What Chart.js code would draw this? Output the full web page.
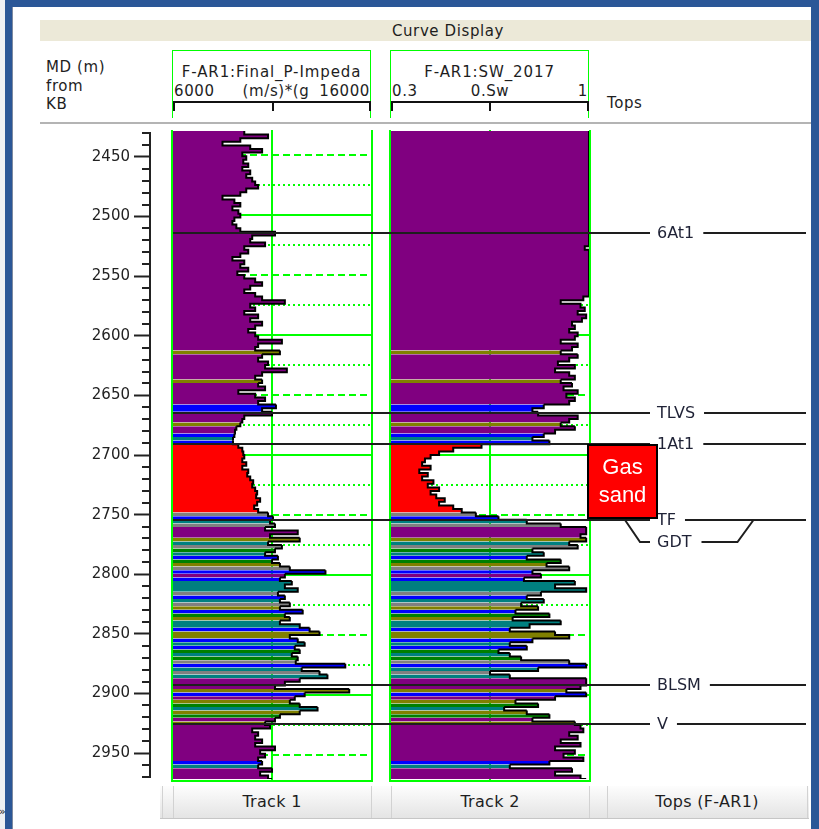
<!DOCTYPE html>
<html>
<head>
<meta charset="utf-8">
<title>Curve Display</title>
<script src="https://cdn.jsdelivr.net/npm/chart.js@4/dist/chart.umd.min.js"></script>
<style>
html,body{margin:0;padding:0;}
body{position:relative;width:819px;height:829px;overflow:hidden;background:#fff;font-family:"DejaVu Sans",Verdana,sans-serif;color:#1e1e1e;}
.a{position:absolute;}
.t{position:absolute;white-space:nowrap;font-size:15px;line-height:18px;letter-spacing:0.6px;}
canvas{position:absolute;}
</style>
</head>
<body>
<!-- window chrome -->
<div class="a" style="left:0;top:0;width:6px;height:829px;background:#eef0f3"></div>
<div class="a" style="left:5px;top:0;width:814px;height:7px;background:#2b5797"></div>
<div class="a" style="left:5px;top:0;width:7px;height:829px;background:#2b5797"></div>
<div class="a" style="left:811px;top:0;width:8px;height:829px;background:#2b5797"></div>
<div class="a" style="left:12px;top:7px;width:1px;height:822px;background:#7d8aa0"></div>
<div class="t" style="left:-1px;top:803px;font-size:11px;letter-spacing:0">»</div>

<!-- title band -->
<div class="a" style="left:40px;top:20px;width:771px;height:21px;background:#ece9d8"></div>
<div class="t" style="left:348px;top:22px;width:200px;text-align:center">Curve Display</div>

<!-- depth header -->
<div class="t" style="left:46px;top:58px">MD (m)</div>
<div class="t" style="left:46px;top:77px">from</div>
<div class="t" style="left:46px;top:95px">KB</div>

<!-- track 1 header -->
<div class="a" style="left:172px;top:50px;width:197px;height:67px;border:1px solid #00ff00;border-bottom:none"></div>
<div class="t" style="left:172px;top:63px;width:199px;text-align:center;letter-spacing:0.9px">F-AR1:Final_P-Impeda</div>
<div class="t" id="t1lo" style="left:174px;top:82px"></div>
<div class="t" id="t1mid" style="left:236px;top:82px;width:80px;text-align:center"></div>
<div class="t" id="t1hi" style="left:300px;top:82px;width:70px;text-align:right"></div>
<div class="a" style="left:173px;top:101px;width:198px;height:2px;background:#111"></div>
<div class="a" style="left:173px;top:101px;width:2px;height:10px;background:#111"></div>
<div class="a" style="left:272px;top:101px;width:2px;height:10px;background:#111"></div>
<div class="a" style="left:369px;top:101px;width:2px;height:10px;background:#111"></div>

<!-- track 2 header -->
<div class="a" style="left:390px;top:50px;width:197px;height:67px;border:1px solid #00ff00;border-bottom:none"></div>
<div class="t" style="left:390px;top:63px;width:199px;text-align:center;letter-spacing:0.9px">F-AR1:SW_2017</div>
<div class="t" id="t2lo" style="left:392px;top:82px"></div>
<div class="t" id="t2mid" style="left:450px;top:82px;width:80px;text-align:center"></div>
<div class="t" id="t2hi" style="left:518px;top:82px;width:70px;text-align:right"></div>
<div class="a" style="left:391px;top:101px;width:198px;height:2px;background:#111"></div>
<div class="a" style="left:391px;top:101px;width:2px;height:10px;background:#111"></div>
<div class="a" style="left:489px;top:101px;width:2px;height:10px;background:#111"></div>
<div class="a" style="left:587px;top:101px;width:2px;height:10px;background:#111"></div>

<div class="t" style="left:607px;top:94px">Tops</div>
<div class="a" style="left:40px;top:122px;width:771px;height:2px;background:#b4b4b4"></div>

<!-- plots -->
<canvas id="depthAxis" width="160" height="670" style="left:0;top:120px"></canvas>
<canvas id="track1" width="218" height="670" style="left:163px;top:120px"></canvas>
<canvas id="track2" width="218" height="670" style="left:381px;top:120px"></canvas>
<canvas id="tops" width="656" height="670" style="left:163px;top:120px"></canvas>

<!-- track tabs -->
<div class="a" style="left:160px;top:786px;width:649px;height:32px;background:linear-gradient(#fdfdfd,#e4e4e4);border-bottom:1px solid #c6c6c6"></div>
<div class="a" style="left:162px;top:786px;width:1px;height:32px;background:#d2d2d2"></div>
<div class="a" style="left:173px;top:786px;width:1px;height:32px;background:#d2d2d2"></div>
<div class="a" style="left:371px;top:786px;width:1px;height:32px;background:#d2d2d2"></div>
<div class="a" style="left:391px;top:786px;width:1px;height:32px;background:#d2d2d2"></div>
<div class="a" style="left:589px;top:786px;width:1px;height:32px;background:#d2d2d2"></div>
<div class="a" style="left:607px;top:786px;width:1px;height:32px;background:#d2d2d2"></div>
<div class="a" style="left:807px;top:786px;width:1px;height:32px;background:#d2d2d2"></div>
<div class="t" style="left:173px;top:793px;width:198px;text-align:center;font-size:16px;letter-spacing:0.3px">Track 1</div>
<div class="t" style="left:391px;top:793px;width:198px;text-align:center;font-size:16px;letter-spacing:0.3px">Track 2</div>
<div class="t" style="left:607px;top:793px;width:200px;text-align:center;font-size:16px;letter-spacing:0.3px">Tops (F-AR1)</div>

<script>
// Sample depths (m MD from KB); each value holds down to the next sample
const DEPTHS = [
  2430,2433,2436,2439,2442,2445,2448,2451,2454,2457,
  2460,2463,2466,2469,2472,2475,2478,2481,2484,2487,
  2490,2493,2496,2499,2502,2505,2508,2511,2514,2517,
  2520,2523,2526,2529,2532,2535,2538,2541,2544,2547,
  2550,2553,2556,2559,2562,2565,2568,2571,2574,2577,
  2580,2583,2586,2589,2592,2595,2598,2601,2604,2607,
  2610,2613,2616,2619,2622,2625,2628,2631,2634,2637,
  2640,2643,2646,2649,2652,2655,2658,2661,2664,2667,
  2670,2673,2676,2679,2682,2685,2688,2691,2694,2697,
  2700,2703,2706,2709,2712,2715,2718,2721,2724,2727,
  2730,2733,2736,2739,2742,2745,2748,2751,2754,2757,
  2760,2763,2766,2769,2772,2775,2778,2781,2784,2787,
  2790,2793,2796,2799,2802,2805,2808,2811,2814,2817,
  2820,2823,2826,2829,2832,2835,2838,2841,2844,2847,
  2850,2853,2856,2859,2862,2865,2868,2871,2874,2877,
  2880,2883,2886,2889,2892,2895,2898,2901,2904,2907,
  2910,2913,2916,2919,2922,2925,2928,2931,2934,2937,
  2940,2943,2946,2949,2952,2955,2958,2961,2964,2967,
  2970
];

// F-AR1:Final_P-Impedance, (m/s)*(g/cc)
const P_IMPEDANCE = [
  9600,10800,9400,8500,9900,10500,9500,9700,9550,9800,
  9500,9900,9700,10000,10150,10300,9700,9400,8500,9100,
  9400,9000,9300,9400,9100,9000,9200,9400,11150,10000,
  9900,10650,9600,9800,9400,9000,9600,9400,9800,9250,
  9600,10150,10500,9900,9600,10150,10500,11650,9900,10150,
  9600,10300,9900,10500,10150,9800,10150,10300,11500,10300,
  10150,11400,10500,10300,10800,10650,11750,10500,10150,10500,
  10300,10650,9300,10150,10650,10300,11200,10500,11000,9600,
  9500,9400,9200,9130,9100,9030,9030,9300,9500,9550,
  9600,9500,9700,9500,9800,9750,9900,10050,10000,10150,
  10250,10200,10400,10250,10100,10300,10800,11050,10900,11150,
  10650,12300,10900,12400,10800,11500,11150,10650,11300,11000,
  11400,11900,13700,11650,11400,12000,11650,12300,11300,11650,
  11400,11900,11400,12550,11650,11900,11400,12400,12900,13400,
  11900,12300,12650,12150,12400,12000,12300,12200,14700,12500,
  13400,13800,12400,11650,11150,14900,12650,12150,11900,12400,
  13300,12400,11400,11150,10650,10900,10000,10300,10150,10500,
  10150,11150,10400,10650,10300,10500,10300,11000,10400,10800,
  11000
];

// F-AR1:SW_2017, water saturation (fraction)
const SW = [
  1,1,1,1,1,1,1,1,1,1,
  1,1,1,1,1,1,1,1,1,1,
  1,1,1,1,1,1,1,1,1,1,
  1,1,0.985,1,1,1,1,1,1,1,
  1,1,1,1,1,1,0.98,0.9,0.97,0.985,
  0.96,0.99,0.975,0.94,0.95,0.93,0.96,0.95,0.9,0.96,
  0.94,0.9,0.96,0.93,0.89,0.95,0.88,0.93,0.95,0.9,
  0.94,0.91,0.96,0.92,0.95,0.93,0.84,0.8,0.82,0.96,
  0.93,0.9,0.95,0.88,0.84,0.8,0.86,0.62,0.52,0.47,
  0.44,0.42,0.41,0.44,0.4,0.43,0.41,0.45,0.43,0.47,
  0.44,0.46,0.49,0.47,0.52,0.55,0.6,0.68,0.78,0.9,
  0.99,0.99,0.97,0.99,0.93,0.96,0.8,0.84,0.78,0.9,
  0.85,0.93,0.8,0.83,0.77,0.95,0.88,0.99,0.83,0.78,
  0.84,0.76,0.82,0.74,0.86,0.73,0.9,0.79,0.72,0.88,
  0.93,0.8,0.72,0.78,0.68,0.72,0.76,0.93,0.99,0.82,
  0.65,0.72,0.99,0.99,0.97,0.92,0.99,0.88,0.74,0.82,
  0.7,0.78,0.86,0.8,0.95,0.97,0.98,0.93,0.96,0.9,
  0.97,0.88,0.95,0.91,0.98,0.86,0.72,0.94,0.88,0.97,
  0.99
];

// Facies code per sample (one letter per depth)
const FACIES = [
  'PPPPPPPPPP','PPPPPPPPPP','PPPPPPPPPP','PPPPPPPPPP','PPPPPPPPPP',
  'PPPPPPPPPP','POPPPPPPPO','PPPPPPBBPP','POPPBTBRRR','RRRRRRRRRR',
  'RRRRRRYBTY','PPPOTYGTBG','OYBPBTTTYB','TYOBGOTTBO','OBTBGTGYBT',
  'YTPPPOBPOG','TOGPOPPPPP','PPPPPBTPPP','P'
].join('').split('');

const FACIES_COLORS = {
  P: '#800080', B: '#0000ff', T: '#008080', G: '#008000',
  O: '#808000', Y: '#808080', R: '#ff0000'
};

const DEPTH_RANGE = [2430, 2970];
const DEPTH_LABELS = [2450, 2500, 2550, 2600, 2650, 2700, 2750, 2800, 2850, 2900, 2950];

const TRACK1_SCALE = [6000, 16000];
const TRACK1_LABELS = ['6000', '(m/s)*(g', '16000'];
const TRACK2_SCALE = [0.3, 1];
const TRACK2_LABELS = ['0.3', '0.Sw', '1'];

const TOP_NAMES = ['6At1', 'TLVS', '1At1', 'TF', 'GDT', 'BLSM', 'V'];
const TOP_DEPTHS = [2515, 2665, 2691, 2754, 2754, 2892, 2924];
const GAS_LABEL = ['Gas', 'sand'];
const GAS_INTERVAL = ['1At1', 'TF'];

document.getElementById('t1lo').textContent = TRACK1_LABELS[0];
document.getElementById('t1mid').textContent = TRACK1_LABELS[1];
document.getElementById('t1hi').textContent = TRACK1_LABELS[2];
document.getElementById('t2lo').textContent = TRACK2_LABELS[0];
document.getElementById('t2mid').textContent = TRACK2_LABELS[1];
document.getElementById('t2hi').textContent = TRACK2_LABELS[2];

const GRID_GREEN = '#00ff00';
const FONT = '"DejaVu Sans", Verdana, sans-serif';
const PAD = { top: 11, bottom: 11, left: 10, right: 10 };
const hiddenX = (min, max) => ({ type: 'linear', min, max, display: false, offset: false });
const depthY = (display) => ({
  type: 'linear', reverse: true, min: DEPTH_RANGE[0], max: DEPTH_RANGE[1],
  display, offset: false
});

// Short 10 m ticks on the depth axis between the labelled ones
const depthMinorTicks = {
  id: 'depthMinorTicks',
  afterDraw(chart) {
    const { ctx, chartArea: a, scales: { y } } = chart;
    ctx.save();
    ctx.strokeStyle = '#222';
    ctx.lineWidth = 2;
    for (let d = Math.ceil(y.min / 10) * 10; d <= y.max; d += 10) {
      if (DEPTH_LABELS.includes(d)) continue;
      const py = Math.round(y.getPixelForValue(d));
      ctx.beginPath();
      ctx.moveTo(a.left - 8, py);
      ctx.lineTo(a.left, py);
      ctx.stroke();
    }
    ctx.restore();
  }
};

// Track grid: solid every 100 m, dashed at 50 m, dotted at 25 m, plus frame
const trackFrame = {
  id: 'trackFrame',
  beforeDatasetsDraw(chart, args, opts) {
    const { ctx, chartArea: a, scales: { x, y } } = chart;
    ctx.save();
    ctx.strokeStyle = GRID_GREEN;
    ctx.lineWidth = 2;
    for (let d = Math.ceil(y.min / 25) * 25; d <= y.max; d += 25) {
      const py = Math.round(y.getPixelForValue(d));
      ctx.setLineDash(d % 100 === 0 ? [] : d % 50 === 0 ? [7, 4] : [2, 3]);
      ctx.beginPath();
      ctx.moveTo(a.left, py);
      ctx.lineTo(a.right, py);
      ctx.stroke();
    }
    ctx.setLineDash([]);
    const mx = Math.round(x.getPixelForValue(opts.mid));
    ctx.beginPath();
    ctx.moveTo(mx, a.top - 1);
    ctx.lineTo(mx, a.bottom + 1);
    ctx.stroke();
    ctx.restore();
  },
  afterDatasetsDraw(chart) {
    const { ctx, chartArea: a } = chart;
    ctx.save();
    ctx.strokeStyle = GRID_GREEN;
    ctx.lineWidth = 2;
    ctx.beginPath();
    ctx.moveTo(a.left - 1, a.top - 1);
    ctx.lineTo(a.left - 1, a.bottom + 2);
    ctx.lineTo(a.right + 1, a.bottom + 2);
    ctx.lineTo(a.right + 1, a.top - 1);
    ctx.stroke();
    ctx.restore();
  }
};

// Formation tops with labels, and the gas sand marker
const topsLayer = {
  id: 'topsLayer',
  afterDraw(chart) {
    const { ctx, chartArea: a, scales: { y } } = chart;
    const lx = a.left + 484;
    const seg = (pts) => {
      ctx.beginPath();
      ctx.moveTo(pts[0][0], pts[0][1]);
      pts.slice(1).forEach(p => ctx.lineTo(p[0], p[1]));
      ctx.stroke();
    };
    ctx.save();
    ctx.font = '16px ' + FONT;
    ctx.textBaseline = 'middle';
    ctx.textAlign = 'left';
    ctx.strokeStyle = '#1e1e1e';
    ctx.fillStyle = '#1f2236';
    ctx.lineWidth = 2;
    TOP_NAMES.forEach((name, i) => {
      const py = Math.round(y.getPixelForValue(TOP_DEPTHS[i]));
      const w = ctx.measureText(name).width;
      if (i > 0 && TOP_DEPTHS[i] === TOP_DEPTHS[i - 1]) {
        const ly = py + 22;
        seg([[lx - 32, py], [lx - 17, ly], [lx - 7, ly]]);
        seg([[lx + w + 10, ly], [lx + w + 46, ly], [lx + w + 62, py]]);
        ctx.fillText(name, lx, ly + 1);
      } else {
        seg([[a.left, py], [lx - 7, py]]);
        seg([[lx + w + 9, py], [a.right, py]]);
        ctx.fillText(name, lx, py + 1);
      }
    });

    const yTop = Math.round(y.getPixelForValue(TOP_DEPTHS[TOP_NAMES.indexOf(GAS_INTERVAL[0])])) + 1;
    const yBot = Math.round(y.getPixelForValue(TOP_DEPTHS[TOP_NAMES.indexOf(GAS_INTERVAL[1])])) - 2;
    const x0 = a.left + 415;
    ctx.fillStyle = '#ff0000';
    ctx.fillRect(x0, yTop, lx - x0, yBot - yTop);
    ctx.strokeStyle = '#000';
    ctx.strokeRect(x0, yTop, lx - x0, yBot - yTop);
    ctx.fillStyle = '#ffffff';
    ctx.font = '22px "Liberation Sans", Arial, sans-serif';
    ctx.textAlign = 'center';
    const cx = (x0 + lx) / 2, cy = (yTop + yBot) / 2;
    ctx.fillText(GAS_LABEL[0], cx, cy - 14);
    ctx.fillText(GAS_LABEL[1], cx, cy + 14);
    ctx.restore();
  }
};

const baseOptions = {
  responsive: false,
  maintainAspectRatio: false,
  animation: false,
  events: [],
  layout: { padding: PAD },
  plugins: { legend: { display: false }, tooltip: { enabled: false } }
};

// Depth axis
new Chart(document.getElementById('depthAxis'), {
  type: 'scatter',
  data: { datasets: [] },
  options: {
    ...baseOptions,
    layout: { padding: { top: PAD.top, bottom: PAD.bottom, left: 0, right: 0 } },
    scales: {
      x: hiddenX(0, 1),
      y: {
        ...depthY(true),
        position: 'left',
        afterBuildTicks: (s) => { s.ticks = DEPTH_LABELS.map(v => ({ value: v })); },
        afterFit: (s) => { s.width = 150; },
        grid: { drawOnChartArea: false, drawTicks: true, tickLength: 16, tickWidth: 2, tickColor: '#222', color: '#222' },
        border: { display: true, color: '#222', width: 2 },
        ticks: { color: '#222', padding: 4, font: { family: FONT, size: 15 }, callback: (v) => String(v) }
      }
    }
  },
  plugins: [depthMinorTicks]
});

// A log track: stepped curve, filled from the left edge with the facies colour of each interval
function logTrack(id, values, scale, mid) {
  return new Chart(document.getElementById(id), {
    type: 'line',
    data: {
      datasets: [{
        data: DEPTHS.map((d, i) => ({ x: values[i], y: d })),
        stepped: 'after',
        borderColor: '#000',
        borderWidth: 2,
        pointRadius: 0,
        tension: 0,
        fill: { value: scale[0] },
        backgroundColor: FACIES_COLORS.P,
        segment: { backgroundColor: (c) => FACIES_COLORS[FACIES[c.p0DataIndex]] }
      }]
    },
    options: {
      ...baseOptions,
      indexAxis: 'y',
      scales: { x: hiddenX(scale[0], scale[1]), y: depthY(false) },
      plugins: { ...baseOptions.plugins, trackFrame: { mid } }
    },
    plugins: [trackFrame]
  });
}

logTrack('track1', P_IMPEDANCE, TRACK1_SCALE, (TRACK1_SCALE[0] + TRACK1_SCALE[1]) / 2);
logTrack('track2', SW, TRACK2_SCALE, (TRACK2_SCALE[0] + TRACK2_SCALE[1]) / 2);

// Tops overlay spanning both tracks and the tops column
new Chart(document.getElementById('tops'), {
  type: 'scatter',
  data: { datasets: [] },
  options: {
    ...baseOptions,
    layout: { padding: { top: PAD.top, bottom: PAD.bottom, left: 10, right: 13 } },
    scales: { x: hiddenX(0, 1), y: depthY(false) }
  },
  plugins: [topsLayer]
});
</script>
</body>
</html>
